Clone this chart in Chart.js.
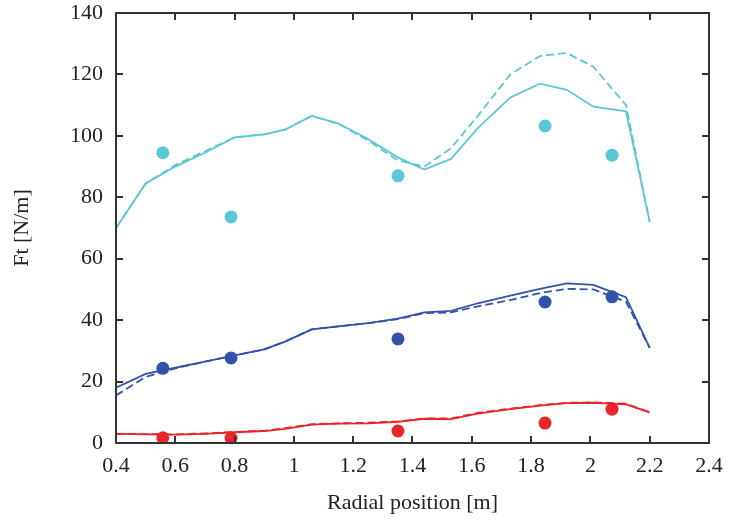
<!DOCTYPE html>
<html>
<head>
<meta charset="utf-8">
<script src="https://cdn.jsdelivr.net/npm/chart.js@4/dist/chart.umd.min.js"></script>
<style>
  html, body { margin: 0; padding: 0; background: #fff; }
  #wrap { width: 730px; height: 521px; }
</style>
</head>
<body>
<div id="wrap"><canvas id="c" width="730" height="521"></canvas></div>
<script>
// Radial stations of the computed curves [m]
const lineR = [0.4, 0.5, 0.6, 0.7, 0.8, 0.9, 0.97, 1.06, 1.15, 1.25, 1.35, 1.44, 1.53, 1.62, 1.73, 1.83, 1.92, 2.01, 2.12, 2.2];

// Computed tangential force Ft [N/m] — solid and dashed variants
const cyanSolid  = [70, 84.5, 90, 94.5, 99.5, 100.5, 102, 106.5, 104, 99, 93, 89, 92.5, 102.5, 112.5, 117, 115, 109.5, 108, 72];
const cyanDashed = [70, 84.5, 90.5, 95, 99.5, 100.5, 102, 106.5, 104, 98.5, 92, 90, 96, 106.5, 120, 126, 127, 122.5, 110, 72];
const blueSolid  = [18, 22.5, 24.5, 26.5, 28.5, 30.5, 33, 37, 38, 39, 40.5, 42.5, 43, 45.5, 48, 50.2, 52, 51.5, 47.5, 31];
const blueDashed = [15.5, 21.5, 24.3, 26.5, 28.5, 30.5, 33, 37, 38, 39, 40.3, 42.3, 42.5, 44.5, 46.5, 48.8, 50.2, 50, 46, 31];
const redSolid   = [3, 2.8, 2.7, 3.0, 3.5, 3.9, 4.6, 6, 6.3, 6.4, 6.9, 7.9, 7.8, 9.6, 11, 12.2, 13, 13.1, 12.6, 10];
const redDashed  = [3, 2.9, 2.8, 3.1, 3.6, 4.0, 4.8, 6.1, 6.4, 6.6, 7.0, 8.0, 8.0, 9.8, 11.2, 12.3, 13.1, 13.2, 12.8, 10];

// Measured values
const measR    = [0.558, 0.788, 1.351, 1.847, 2.073];
const cyanMeas = [94.5, 73.6, 87, 103.2, 93.7];
const blueMeas = [24.3, 27.7, 33.9, 45.9, 47.6];
const redMeas  = [1.7, 1.6, 3.9, 6.5, 11];

// Axis ticks
const xTicks = [0.4, 0.6, 0.8, 1.0, 1.2, 1.4, 1.6, 1.8, 2.0, 2.2, 2.4];
const yTicks = [0, 20, 40, 60, 80, 100, 120, 140];

const CYAN = '#5cc7d7', BLUE = '#3352a9', RED = '#e8252b', AXIS = '#333333';
const FONT = "'Liberation Serif', 'Times New Roman', serif";

const pts = (xs, ys) => xs.map((x, i) => ({ x, y: ys[i] }));

function curve(data, color, dashed) {
  return {
    data: pts(lineR, data), borderColor: color, backgroundColor: color,
    borderWidth: 1.8, borderDash: dashed ? [8, 4] : [], showLine: true,
    pointRadius: 0, tension: 0, fill: false
  };
}
function marks(data, color) {
  return {
    data: pts(measR, data), borderColor: color, backgroundColor: color,
    showLine: false, pointRadius: 6.5, pointBorderWidth: 0
  };
}

// Frame with inward ticks on all four sides
const framePlugin = {
  id: 'frame',
  afterDatasetsDraw(chart) {
    const { ctx, chartArea: a, scales: { x, y } } = chart;
    const L = 7;
    ctx.save();
    ctx.strokeStyle = AXIS;
    ctx.lineWidth = 2;
    ctx.strokeRect(a.left, a.top, a.right - a.left, a.bottom - a.top);
    ctx.beginPath();
    xTicks.slice(1, -1).forEach(v => {
      const px = Math.round(x.getPixelForValue(v));
      ctx.moveTo(px, a.bottom); ctx.lineTo(px, a.bottom - L);
      ctx.moveTo(px, a.top); ctx.lineTo(px, a.top + L);
    });
    yTicks.slice(1, -1).forEach(v => {
      const py = Math.round(y.getPixelForValue(v));
      ctx.moveTo(a.left, py); ctx.lineTo(a.left + L, py);
      ctx.moveTo(a.right, py); ctx.lineTo(a.right - L, py);
    });
    ctx.stroke();
    ctx.restore();
  }
};

new Chart(document.getElementById('c'), {
  type: 'scatter',
  data: {
    datasets: [
      curve(cyanSolid, CYAN, false), curve(cyanDashed, CYAN, true),
      curve(blueSolid, BLUE, false), curve(blueDashed, BLUE, true),
      curve(redSolid, RED, false), curve(redDashed, RED, true),
      marks(cyanMeas, CYAN), marks(blueMeas, BLUE), marks(redMeas, RED)
    ]
  },
  options: {
    responsive: false,
    animation: false,
    devicePixelRatio: 1,
    layout: { padding: { top: 13, right: 21, left: 0, bottom: 0 } },
    plugins: { legend: { display: false }, tooltip: { enabled: false } },
    scales: {
      x: {
        type: 'linear', min: 0.4, max: 2.4,
        afterBuildTicks: s => { s.ticks = xTicks.map(v => ({ value: v })); },
        afterFit: s => { s.height = 78; s.paddingLeft = 0; s.paddingRight = 0; },
        grid: { display: false, drawTicks: false },
        border: { display: false },
        ticks: {
          padding: 10, color: '#222', font: { family: FONT, size: 22 },
          callback: v => String(Math.round(v * 10) / 10)
        },
        title: {
          display: true, text: 'Radial position [m]', color: '#222',
          font: { family: FONT, size: 22 }, padding: { top: 0, bottom: 5 }
        }
      },
      y: {
        type: 'linear', min: 0, max: 140,
        afterBuildTicks: s => { s.ticks = yTicks.map(v => ({ value: v })); },
        afterFit: s => { s.width = 116; s.paddingTop = 0; s.paddingBottom = 0; },
        grid: { display: false, drawTicks: false },
        border: { display: false },
        ticks: {
          padding: 13, color: '#222', font: { family: FONT, size: 22 },
          callback: v => String(v)
        },
        title: {
          display: true, text: 'Ft [N/m]', color: '#222',
          font: { family: FONT, size: 22 }, padding: { top: 9, bottom: 0 }
        }
      }
    }
  },
  plugins: [framePlugin]
});
</script>
</body>
</html>
